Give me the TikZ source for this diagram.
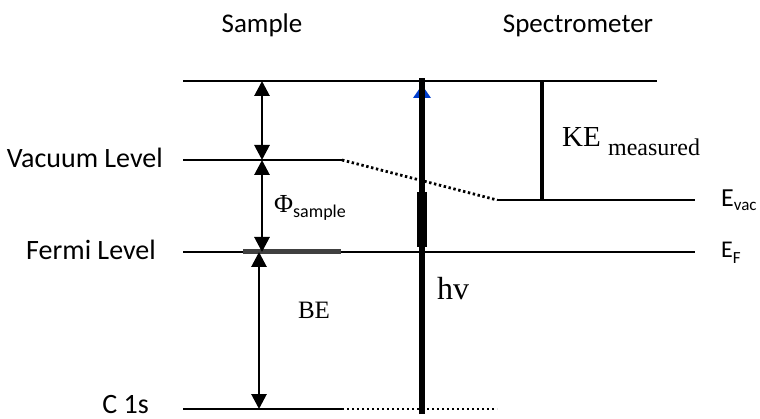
\documentclass[tikz,border=0pt]{standalone}
\usepackage{fontspec}
\setmainfont{Liberation Serif}
\setsansfont{Carlito}
\usetikzlibrary{arrows.meta}
\tikzset{
  level/.style={line width=2.8pt},
  dotlevel/.style={line width=2.8pt, dash pattern=on 2.4pt off 2.6pt},
  dbl/.style={line width=2.8pt, {Triangle[length=15pt,width=15pt]}-{Triangle[length=15pt,width=15pt]}},
  sanslab/.style={font=\sffamily\fontsize{27}{30}\selectfont, inner sep=0pt},
  leftlab/.style={font=\sffamily\fontsize{28}{30}\selectfont, inner sep=0pt, anchor=base east},
  serlab/.style={inner sep=0pt},
}
\begin{document}
\begin{tikzpicture}[x=1pt,y=-1pt]
\useasboundingbox (0,0) rectangle (760,419);
% level coordinates
\coordinate (T1) at (183,81);  \coordinate (T2) at (657,81);
\coordinate (V1) at (183,160); \coordinate (V2) at (342,160);
\coordinate (EV1) at (497,200); \coordinate (EV2) at (695,200);
\coordinate (F1) at (183,252); \coordinate (F2) at (695,252);
\coordinate (FS1) at (243,252); \coordinate (FS2) at (341,252);
\coordinate (C1) at (183,409); \coordinate (C2) at (342,409); \coordinate (C3) at (497,409);
% arrow end points
\coordinate (A1) at (262,81);  \coordinate (A2) at (262,160);
\coordinate (A3) at (262,252); \coordinate (A4) at (259,252); \coordinate (A5) at (259,409);
\coordinate (H0) at (422,414); \coordinate (H1) at (422,78);
\coordinate (HT1) at (422,192); \coordinate (HT2) at (422,247);
\coordinate (K1) at (542,81); \coordinate (K2) at (542,200);
% levels
\draw[level] (T1) -- (T2);
\draw[level] (V1) -- (V2);
\draw[dotlevel] (V2) -- (EV1);
\draw[level] (EV1) -- (EV2);
\draw[level] (F1) -- (F2);
\draw[line width=5pt, black!75] (FS1) -- (FS2);
\draw[level] (C1) -- (C2);
\draw[dotlevel] (C2) -- (C3);
% double arrows
\draw[dbl] (A1) -- (A2);
\draw[dbl] (A2) -- (A3);
\draw[dbl] (A4) -- (A5);
% photon line
\fill[blue!70!cyan!80!black] (422,85) -- (431,98) -- (413,98) -- cycle;
\draw[line width=5.5pt] (H0) -- (H1);
\draw[line width=10pt] (HT1) -- (HT2);
% KE line
\draw[line width=4pt] (K1) -- (K2);
% labels
\node[sanslab, anchor=base] (sample) at (262,33) {Sample};
\node[sanslab, anchor=base] (spec) at (578,33) {Spectrometer};
\node[leftlab] (vac) at (163,168) {Vacuum Level};
\node[leftlab] (fermi) at (156,260) {Fermi Level};
\node[leftlab] (c1s) at (149,413) {C 1s};
\node[serlab, anchor=base west] (phi) at (274,213) {\fontsize{26}{28}\selectfont Φ\raisebox{-5pt}{\sffamily\fontsize{18}{20}\selectfont sample}};
\node[serlab, font=\fontsize{25}{28}\selectfont] (be) at (314,310) {BE};
\node[serlab, anchor=base west, font=\fontsize{32}{36}\selectfont] (hv) at (437,300) {hv};
\node[serlab, anchor=base west] (ke) at (562,147) {\fontsize{29}{32}\selectfont KE \raisebox{-9pt}{\fontsize{24}{28}\selectfont measured}};
\node[serlab, anchor=base west] (evac) at (721,207) {\sffamily\fontsize{26}{28}\selectfont E\raisebox{-4pt}{\fontsize{17}{20}\selectfont vac}};
\node[serlab, anchor=base west] (ef) at (721,258) {\sffamily\fontsize{24}{28}\selectfont E\raisebox{-6pt}{\fontsize{17}{20}\selectfont F}};
\end{tikzpicture}
\end{document}
